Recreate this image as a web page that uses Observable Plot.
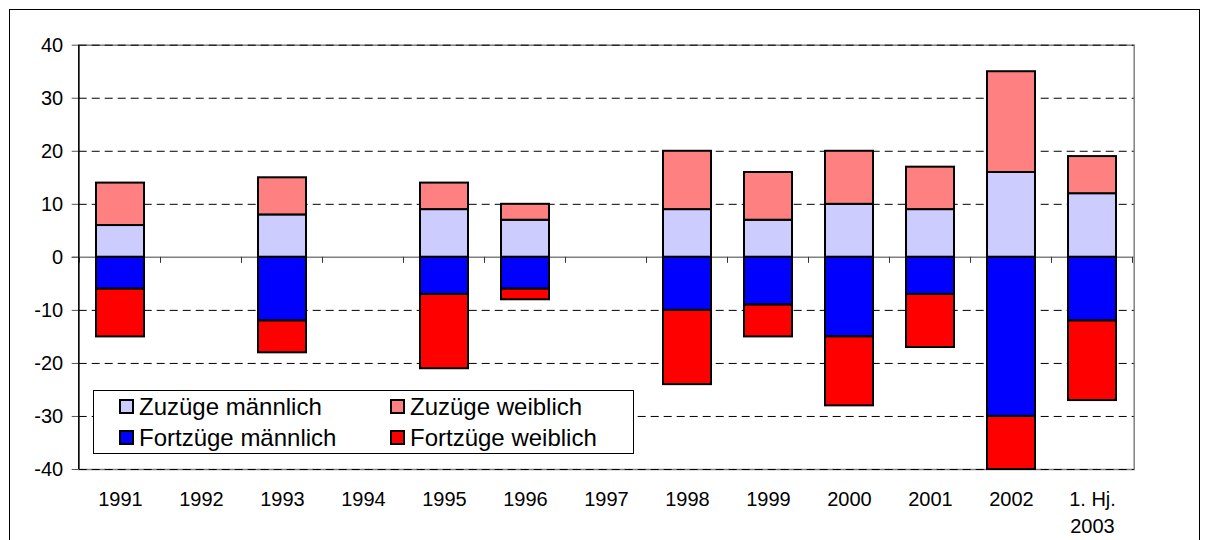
<!DOCTYPE html>
<html><head><meta charset="utf-8">
<script src="https://cdn.jsdelivr.net/npm/d3@7"></script>
<script src="https://cdn.jsdelivr.net/npm/@observablehq/plot@0.6"></script>
<style>
body{margin:0;background:#fff;font-family:"Liberation Sans",Arial,sans-serif;}
#wrap{position:relative;width:1205px;height:540px;overflow:hidden;background:#fff;}
#frame{position:absolute;left:9px;top:9px;width:1191px;height:600px;border:1.5px solid #000;box-sizing:border-box;pointer-events:none}
#legend{position:absolute;left:93px;top:390px;width:541px;height:64px;border:1px solid #000;background:#fff;box-sizing:border-box;font-size:24px;color:#000}
.item{position:absolute;display:flex;align-items:center;height:30px;white-space:nowrap}
.sw{width:11px;height:11px;border:2px solid #000;margin-right:5px;flex:none}
</style></head>
<body><div id="wrap"><div id="chart"></div><div id="legend"></div><div id="frame"></div></div>
<script>
const categories = ["1991","1992","1993","1994","1995","1996","1997","1998","1999","2000","2001","2002","1. Hj.\n2003"];
const seriesNames = ["Zuzüge männlich","Zuzüge weiblich","Fortzüge männlich","Fortzüge weiblich"];
const seriesColors = ["#CCCCFF","#FF8080","#0000FF","#FF0000"];
const zuzuegeMaennlich  = [6, null, 8, null, 9, 7, null, 9, 7, 10, 9, 16, 12];
const zuzuegeWeiblich   = [8, null, 7, null, 5, 3, null, 11, 9, 10, 8, 19, 7];
const fortzuegeMaennlich = [-6, null, -12, null, -7, -6, null, -10, -9, -15, -7, -30, -12];
const fortzuegeWeiblich  = [-9, null, -6, null, -14, -2, null, -14, -6, -13, -10, -10, -15];
const yTicks = [-40,-30,-20,-10,0,10,20,30,40];
const gridValues = [-40,-30,-20,-10,10,20,30,40];

const seriesValues = [zuzuegeMaennlich, zuzuegeWeiblich, fortzuegeMaennlich, fortzuegeWeiblich];
const table = [];
seriesValues.forEach((vals, s) => vals.forEach((v, i) => {
  if (v != null) table.push({cat: categories[i], series: seriesNames[s], value: v});
}));

const tickMark = (index, scales, values, dims) => {
  const g = d3.create("svg:g");
  const x = scales.x, y = scales.y;
  const step = x(categories[1]) - x(categories[0]);
  const bw = x.bandwidth != null ? (typeof x.bandwidth === "function" ? x.bandwidth() : x.bandwidth) : step * 0.59;
  const gap = (step - bw) / 2;
  const pos = categories.map(c => x(c) - gap);
  pos.push(x(categories[categories.length - 1]) + bw + gap);
  const y0 = y(0);
  for (const p of pos) {
    g.append("line").attr("x1", p).attr("x2", p).attr("y1", y0).attr("y2", y0 + 6)
      .attr("stroke", "#333").attr("stroke-width", 1);
  }
  return g.node();
};
const axisLine = (index, scales, values, dims) => {
  const g = d3.create("svg:g");
  g.append("line").attr("x1", dims.marginLeft).attr("x2", dims.marginLeft)
    .attr("y1", dims.marginTop).attr("y2", dims.height - dims.marginBottom)
    .attr("stroke", "#000").attr("stroke-width", 1.3);
  return g.node();
};

const chart = Plot.plot({
  width: 1205, height: 540,
  marginLeft: 78.7, marginRight: 71.3, marginTop: 44.7, marginBottom: 71,
  style: {fontFamily: "'Liberation Sans', Arial, sans-serif", fontSize: "20px", color: "#000", background: "transparent", overflow: "visible"},
  x: {domain: categories, paddingInner: 0.41, paddingOuter: 0.205, axis: null, label: null},
  y: {domain: [-40, 40], axis: null, label: null},
  color: {domain: seriesNames, range: seriesColors},
  marks: [
    Plot.frame({stroke: "#808080", strokeWidth: 1.5}),
    Plot.ruleY(gridValues, {stroke: "#000", strokeWidth: 1, strokeDasharray: "8,5"}),
    Plot.ruleY([0], {stroke: "#808080", strokeWidth: 1.5, insetLeft: -7}),
    Plot.barY(table, {x: "cat", y: "value", fill: "series", stroke: "#000", strokeWidth: 2}),
    tickMark,
    Plot.axisY({ticks: yTicks, tickSize: 7, tickPadding: 9, fontSize: 20, stroke: "#555", label: null, tickFormat: d => String(d)}),
    Plot.axisX({tickSize: 0, tickPadding: 17, fontSize: 20, lineHeight: 1.35, label: null}),
    axisLine
  ]
});
document.getElementById("chart").appendChild(chart);

const legend = document.getElementById("legend");
const pos = [[25, 0.7], [296, 0.7], [25, 31.7], [296, 31.7]];
seriesNames.forEach((name, s) => {
  const it = document.createElement("div");
  it.className = "item";
  it.style.left = pos[s][0] + "px";
  it.style.top = pos[s][1] + "px";
  const sw = document.createElement("div");
  sw.className = "sw";
  sw.style.background = seriesColors[s];
  const t = document.createElement("span");
  t.textContent = name;
  it.appendChild(sw); it.appendChild(t);
  legend.appendChild(it);
});
</script></body></html>
